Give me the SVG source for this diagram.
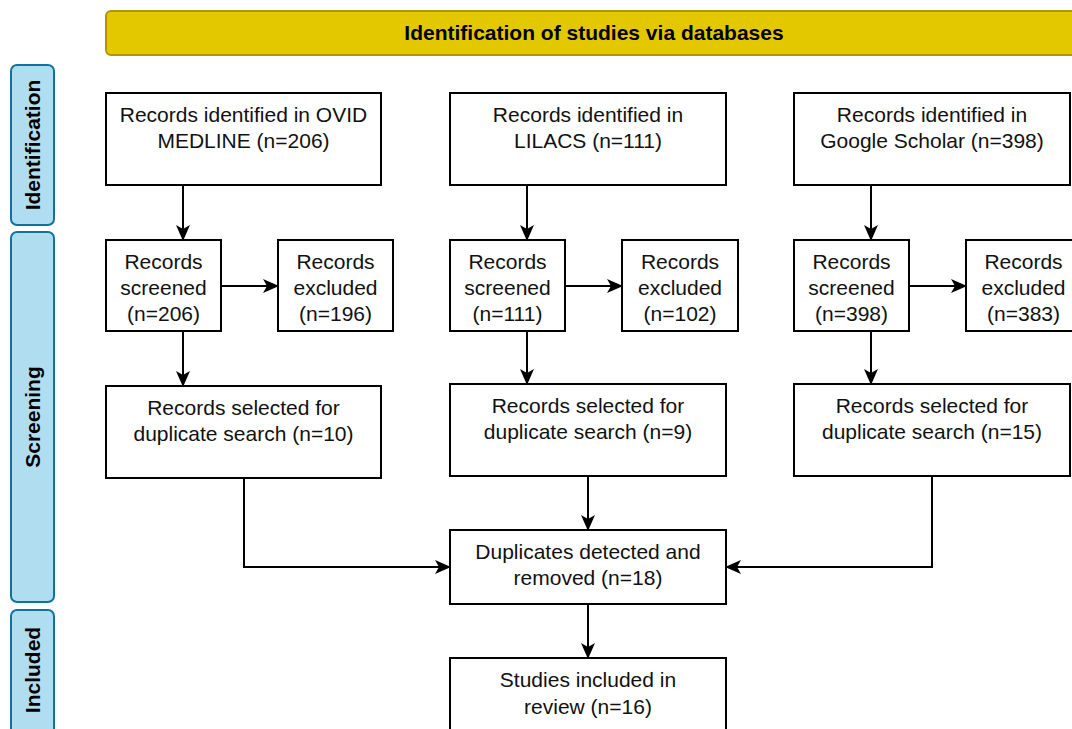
<svg xmlns="http://www.w3.org/2000/svg" width="1072" height="729" viewBox="0 0 1072 729">
<style>
.box{fill:#fff;stroke:#000;stroke-width:2}
.t{font-family:"Liberation Sans",Arial,sans-serif;font-size:21px;fill:#111;text-anchor:middle}
.b{font-family:"Liberation Sans",Arial,sans-serif;font-size:21px;font-weight:bold;fill:#000;text-anchor:middle}
.side{fill:#b1ddf0;stroke:#10739e;stroke-width:2}
.c{fill:none;stroke:#000;stroke-width:2}
</style>
<defs>
<marker id="ah" viewBox="0 0 16 14" refX="15" refY="7" markerWidth="16" markerHeight="14" markerUnits="userSpaceOnUse" orient="auto">
<path d="M0,0 L16,7 L0,14 L4,7 Z" fill="#000"/>
</marker>
</defs>
<rect width="1072" height="729" fill="#fff"/>
<g id="banner">
<rect x="106" y="11" width="1000" height="44" rx="5" fill="#e3c800" stroke="#b09500" stroke-width="2"/>
<text class="b" x="594" y="40">Identification of studies via databases</text>
</g>
<g id="lane-identification">
<rect class="side" x="11" y="65" width="43" height="160" rx="6"/>
<text class="b" transform="translate(40,145) rotate(-90)">Identification</text>
</g>
<g id="lane-screening">
<rect class="side" x="11" y="232" width="43" height="370" rx="6"/>
<text class="b" transform="translate(40,417) rotate(-90)">Screening</text>
</g>
<g id="lane-included">
<rect class="side" x="11" y="610" width="43" height="140" rx="6"/>
<text class="b" transform="translate(40,670) rotate(-90)">Included</text>
</g>

<g id="id-ovid"><rect class="box" x="106" y="93" width="275" height="92"/>
<text class="t" x="243.5" y="122">Records identified in OVID</text><text class="t" x="243.5" y="148">MEDLINE (n=206)</text></g>
<g id="id-lilacs"><rect class="box" x="450" y="93" width="276" height="92"/>
<text class="t" x="588" y="122">Records identified in</text><text class="t" x="588" y="148">LILACS (n=111)</text></g>
<g id="id-scholar"><rect class="box" x="794" y="93" width="276" height="92"/>
<text class="t" x="932" y="122">Records identified in</text><text class="t" x="932" y="148">Google Scholar (n=398)</text></g>

<g id="scr-ovid"><rect class="box" x="106" y="240" width="115" height="91"/>
<text class="t" x="163.5" y="269">Records</text><text class="t" x="163.5" y="295">screened</text><text class="t" x="163.5" y="321">(n=206)</text></g>
<g id="exc-ovid"><rect class="box" x="278" y="240" width="115" height="91"/>
<text class="t" x="335.5" y="269">Records</text><text class="t" x="335.5" y="295">excluded</text><text class="t" x="335.5" y="321">(n=196)</text></g>
<g id="scr-lilacs"><rect class="box" x="450" y="240" width="115" height="91"/>
<text class="t" x="507.5" y="269">Records</text><text class="t" x="507.5" y="295">screened</text><text class="t" x="507.5" y="321">(n=111)</text></g>
<g id="exc-lilacs"><rect class="box" x="622" y="240" width="116" height="91"/>
<text class="t" x="680" y="269">Records</text><text class="t" x="680" y="295">excluded</text><text class="t" x="680" y="321">(n=102)</text></g>
<g id="scr-scholar"><rect class="box" x="794" y="240" width="115" height="91"/>
<text class="t" x="851.5" y="269">Records</text><text class="t" x="851.5" y="295">screened</text><text class="t" x="851.5" y="321">(n=398)</text></g>
<g id="exc-scholar"><rect class="box" x="966" y="240" width="115" height="91"/>
<text class="t" x="1023.5" y="269">Records</text><text class="t" x="1023.5" y="295">excluded</text><text class="t" x="1023.5" y="321">(n=383)</text></g>

<g id="sel-ovid"><rect class="box" x="106" y="386" width="275" height="92"/>
<text class="t" x="243.5" y="415">Records selected for</text><text class="t" x="243.5" y="441">duplicate search (n=10)</text></g>
<g id="sel-lilacs"><rect class="box" x="450" y="384" width="276" height="92"/>
<text class="t" x="588" y="413">Records selected for</text><text class="t" x="588" y="439">duplicate search (n=9)</text></g>
<g id="sel-scholar"><rect class="box" x="794" y="384" width="276" height="92"/>
<text class="t" x="932" y="413">Records selected for</text><text class="t" x="932" y="439">duplicate search (n=15)</text></g>

<g id="duplicates"><rect class="box" x="450" y="530" width="276" height="74"/>
<text class="t" x="588" y="559">Duplicates detected and</text><text class="t" x="588" y="585">removed (n=18)</text></g>
<g id="included"><rect class="box" x="450" y="658" width="276" height="92"/>
<text class="t" x="588" y="687">Studies included in</text><text class="t" x="588" y="714">review (n=16)</text></g>

<g id="connectors">
<path class="c" d="M183,185 V240" marker-end="url(#ah)"/>
<path class="c" d="M527,185 V240" marker-end="url(#ah)"/>
<path class="c" d="M871,185 V240" marker-end="url(#ah)"/>
<path class="c" d="M221,286 H278" marker-end="url(#ah)"/>
<path class="c" d="M565,286 H622" marker-end="url(#ah)"/>
<path class="c" d="M909,286 H966" marker-end="url(#ah)"/>
<path class="c" d="M183,331 V386" marker-end="url(#ah)"/>
<path class="c" d="M527,331 V384" marker-end="url(#ah)"/>
<path class="c" d="M871,331 V384" marker-end="url(#ah)"/>
<path class="c" d="M244,478 V567 H450" marker-end="url(#ah)"/>
<path class="c" d="M588,476 V530" marker-end="url(#ah)"/>
<path class="c" d="M932,476 V567 H726" marker-end="url(#ah)"/>
<path class="c" d="M588,604 V658" marker-end="url(#ah)"/>
</g>
</svg>
